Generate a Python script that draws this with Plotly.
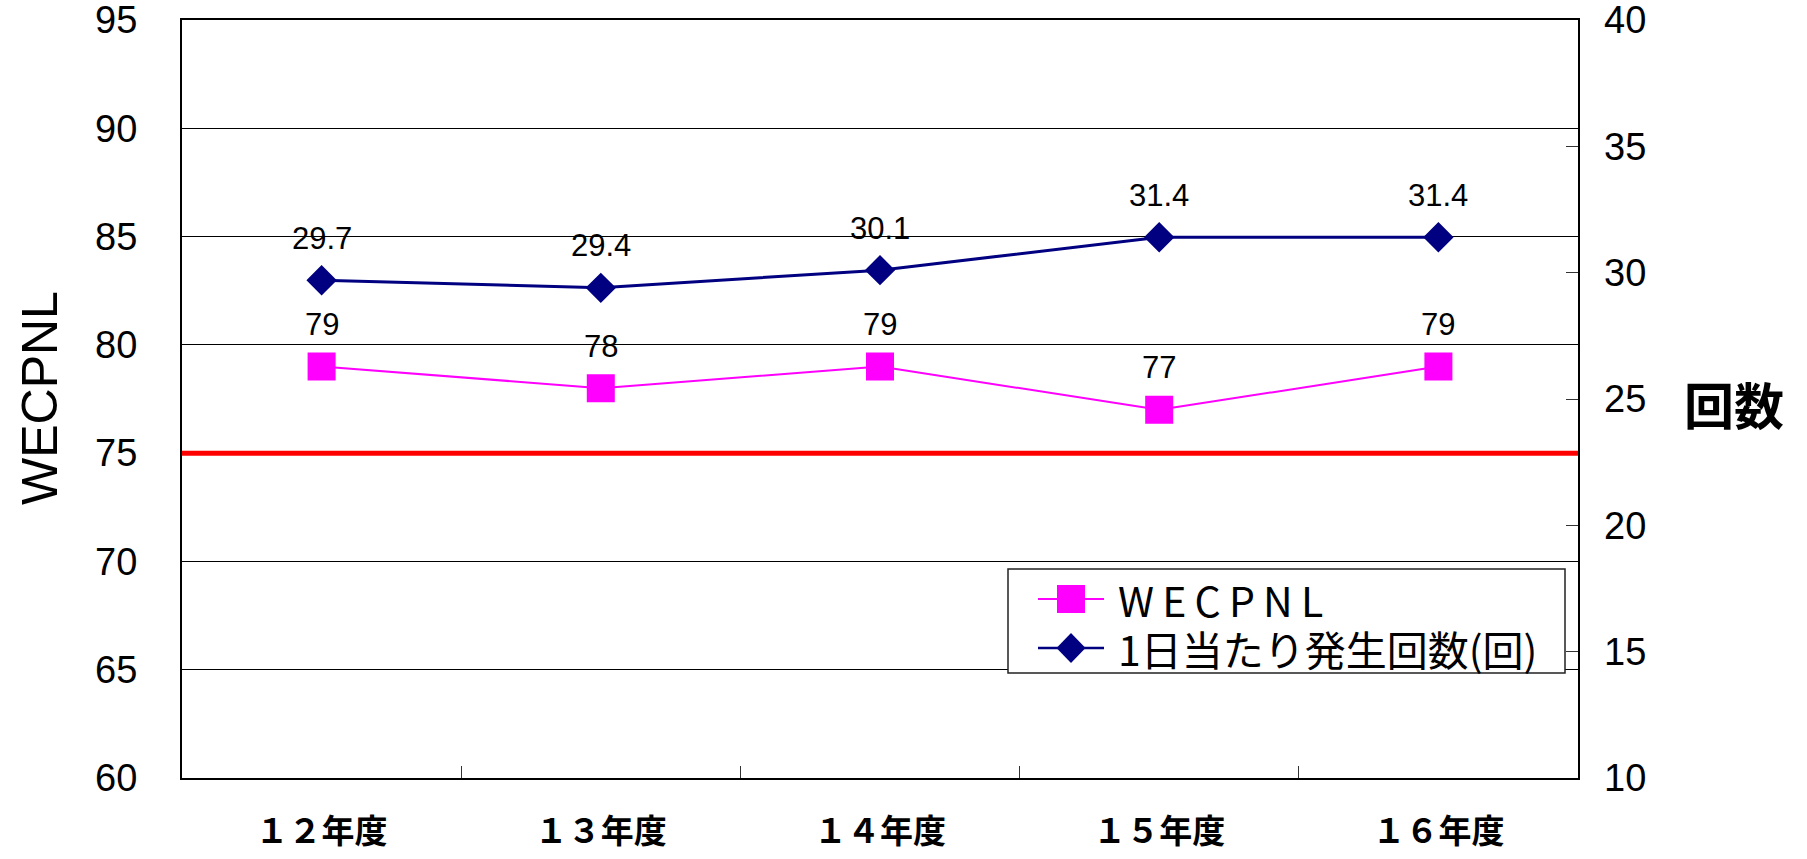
import plotly.graph_objects as go

# 年度別の騒音値と1日当たりの発生回数
years = ["１２年度", "１３年度", "１４年度", "１５年度", "１６年度"]
wecpnl = [79, 78, 79, 77, 79]
daily_count = [29.7, 29.4, 30.1, 31.4, 31.4]
standard_line = 75

left_ticks = [60, 65, 70, 75, 80, 85, 90, 95]
right_ticks = [10, 15, 20, 25, 30, 35, 40]

series_names = ["W\u2009E\u2009C\u2009P\u2009N\u2009L", "1日当たり発生回数(回)"]
series_colors = ["#FF00FF", "#000080"]

NUM_FONT = "Liberation Sans, Arial, sans-serif"
JP_FONT = "Noto Sans CJK JP, sans-serif"

W, H = 1807, 859
ML, MR, MT, MB = 182, 229, 20, 81
PW, PH = W - ML - MR, H - MT - MB


def px(x):
    """Pixel column -> paper x."""
    return (x - ML) / PW


def py(y):
    """Pixel row -> paper y."""
    return (H - MB - y) / PH


fig = go.Figure()

fig.add_trace(go.Scatter(
    x=years, y=wecpnl, name=series_names[0],
    mode="lines+markers", showlegend=False,
    line=dict(color=series_colors[0], width=2),
    marker=dict(symbol="square", size=23, color=series_colors[0],
                line=dict(color=series_colors[0], width=5)),
    yaxis="y",
))

fig.add_trace(go.Scatter(
    x=years, y=daily_count, name=series_names[1],
    mode="lines+markers", showlegend=False,
    line=dict(color=series_colors[1], width=3),
    marker=dict(symbol="diamond", size=19, color=series_colors[1],
                line=dict(color=series_colors[1], width=4)),
    yaxis="y2",
))

# 値ラベル
annotations = []
for x, v in zip(years, wecpnl):
    annotations.append(dict(x=x, y=v, xref="x", yref="y", text=str(v),
                            showarrow=False, yshift=42,
                            font=dict(family=NUM_FONT, size=31, color="black")))
for x, v in zip(years, daily_count):
    annotations.append(dict(x=x, y=v, xref="x", yref="y2", text=f"{v:.1f}",
                            showarrow=False, yshift=42,
                            font=dict(family=NUM_FONT, size=31, color="black")))

# 軸タイトル
annotations.append(dict(x=px(40), y=py(398), xref="paper", yref="paper",
                        xanchor="center", yanchor="middle",
                        text="WECPNL", textangle=-90, showarrow=False,
                        font=dict(family=NUM_FONT, size=50, color="black")))
annotations.append(dict(x=px(1734), y=py(403), xref="paper", yref="paper",
                        xanchor="center", yanchor="middle",
                        text="回数", showarrow=False,
                        font=dict(family=JP_FONT, size=50, color="black",
                                  weight="bold")))

# 凡例（枠・線・記号・文字）
box_l, box_r, box_t, box_b = 1008, 1565, 569, 673
row_y = [599, 648]
sym_l, sym_r, sym_c = 1038, 1104, 1071
shapes = [
    dict(type="line", xref="paper", yref="y", x0=0, x1=1,
         y0=standard_line, y1=standard_line,
         line=dict(color="#FF0000", width=5), layer="above"),
    dict(type="rect", xref="paper", yref="paper",
         x0=px(box_l), x1=px(box_r), y0=py(box_b), y1=py(box_t),
         fillcolor="white", line=dict(color="#222", width=1.5),
         layer="above"),
]
for ry, col, lw in zip(row_y, series_colors, [2, 2.5]):
    shapes.append(dict(type="line", xref="paper", yref="paper",
                       x0=px(sym_l), x1=px(sym_r), y0=py(ry), y1=py(ry),
                       line=dict(color=col, width=lw), layer="above"))
# 四角記号
shapes.append(dict(type="rect", xref="paper", yref="paper",
                   x0=px(sym_c - 14), x1=px(sym_c + 14),
                   y0=py(row_y[0] + 14), y1=py(row_y[0] - 14),
                   fillcolor=series_colors[0], line=dict(width=0),
                   layer="above"))
# ひし形記号
dx, dy = 14.5, 15
cx, cy = sym_c, row_y[1]
diamond = (f"M {px(cx - dx)} {py(cy)} L {px(cx)} {py(cy - dy)} "
           f"L {px(cx + dx)} {py(cy)} L {px(cx)} {py(cy + dy)} Z")
shapes.append(dict(type="path", xref="paper", yref="paper", path=diamond,
                   fillcolor=series_colors[1], line=dict(width=0),
                   layer="above"))
for ry, name in zip(row_y, series_names):
    annotations.append(dict(x=px(1116), y=py(ry), xref="paper", yref="paper",
                            xanchor="left", yanchor="middle",
                            text=name, showarrow=False,
                            font=dict(family=JP_FONT, size=41, color="black")))

fig.update_layout(
    width=W, height=H,
    margin=dict(l=ML, r=MR, t=MT, b=MB),
    paper_bgcolor="white", plot_bgcolor="white",
    showlegend=False,
    annotations=annotations,
    shapes=shapes,
    xaxis=dict(
        type="category", range=[-0.5, len(years) - 0.5], automargin=False,
        showline=True, linecolor="black", linewidth=2, mirror=True,
        showgrid=False, ticks="inside", tickson="boundaries",
        ticklen=12, tickcolor="#333", tickwidth=1,
        tickfont=dict(family=JP_FONT, size=33, color="black", weight="bold"),
        ticklabelstandoff=23,
    ),
    yaxis=dict(
        range=[60, 95], tickvals=left_ticks, automargin=False,
        showline=True, linecolor="black", linewidth=2, mirror=True,
        showgrid=True, gridcolor="black", gridwidth=1,
        ticks="", zeroline=False, ticklabeloverflow="allow",
        tickfont=dict(family=NUM_FONT, size=38, color="black"),
        ticklabelstandoff=35,
    ),
    yaxis2=dict(
        range=[10, 40], tickvals=right_ticks, overlaying="y", side="right",
        automargin=False, ticklabeloverflow="allow",
        showgrid=False, zeroline=False, showline=False,
        ticks="inside", ticklen=12, tickcolor="#333", tickwidth=1,
        tickfont=dict(family=NUM_FONT, size=38, color="black"),
        ticklabelstandoff=25,
    ),
)

fig.write_html("out.html")
